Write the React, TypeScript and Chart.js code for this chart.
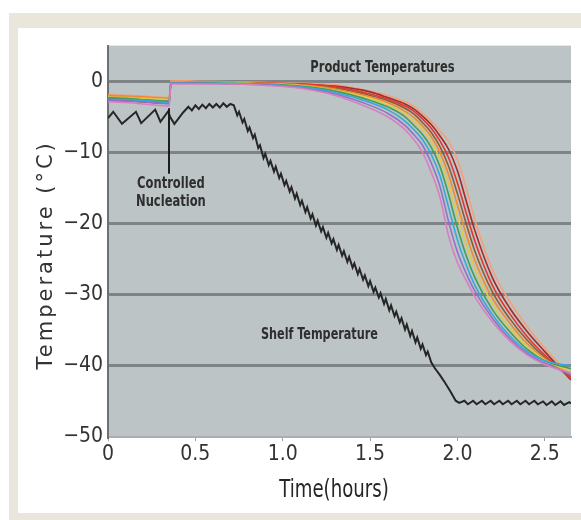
import React, { useEffect, useRef } from "react";
import { Chart, registerables } from "chart.js";

Chart.register(...registerables);

// ---------- Data ----------
const shelfTime = [
  0.0, 0.03, 0.08, 0.16, 0.19, 0.27, 0.3, 0.345, 0.355, 0.38, 0.43, 0.46, 0.48, 0.5, 0.52, 0.54, 0.56, 0.58, 0.6,
  0.62, 0.64, 0.66, 0.68, 0.7, 0.72, 0.74, 0.75, 0.77, 0.78, 0.8, 0.81, 0.83, 0.84, 0.86, 0.87, 0.89, 0.9, 0.92,
  0.93, 0.95, 0.96, 0.98, 0.99, 1.01, 1.02, 1.04, 1.05, 1.07, 1.08, 1.1, 1.11, 1.13, 1.14, 1.16, 1.17, 1.19, 1.2,
  1.22, 1.23, 1.25, 1.26, 1.28, 1.29, 1.31, 1.32, 1.34, 1.35, 1.37, 1.38, 1.4, 1.41, 1.43, 1.44, 1.46, 1.47, 1.49,
  1.5, 1.52, 1.53, 1.55, 1.56, 1.58, 1.59, 1.61, 1.62, 1.64, 1.65, 1.67, 1.68, 1.7, 1.71, 1.73, 1.74, 1.76, 1.77,
  1.79, 1.8, 1.82, 1.83, 1.85, 1.87, 1.9, 1.93, 1.96, 1.99, 2.01, 2.04, 2.06, 2.09, 2.11, 2.14, 2.16, 2.19, 2.21,
  2.24, 2.26, 2.29, 2.31, 2.34, 2.36, 2.39, 2.41, 2.44, 2.46, 2.49, 2.51, 2.54, 2.56, 2.59, 2.61, 2.64, 2.65,
];
const shelfTemp = [
  -5.2, -4.3, -6.0, -4.3, -5.9, -4.0, -5.7, -4.2, -5.0, -6.0, -4.4, -3.6, -4.1, -3.4, -3.9, -3.3, -3.8, -3.2, -3.7,
  -3.2, -3.7, -3.1, -3.6, -3.2, -3.4, -4.8, -4.3, -5.8, -5.3, -7.0, -6.5, -8.0, -7.5, -9.4, -9.0, -10.8, -10.2, -11.8,
  -11.2, -12.7, -12.0, -13.6, -13.0, -14.6, -14.0, -15.5, -14.9, -16.5, -15.8, -17.4, -16.8, -18.4, -17.7, -19.3, -18.7, -20.3, -19.6,
  -21.1, -20.5, -22.0, -21.3, -22.8, -22.2, -23.7, -23.0, -24.5, -23.9, -25.4, -24.7, -26.2, -25.6, -27.1, -26.4, -27.9, -27.3, -28.8,
  -28.1, -29.6, -29.0, -30.4, -29.8, -31.3, -30.6, -32.2, -31.5, -33.0, -32.4, -33.9, -33.3, -34.9, -34.2, -35.8, -35.1, -36.7, -36.0,
  -37.6, -37.0, -38.5, -38.0, -39.5, -40.3, -41.3, -42.4, -43.6, -44.9, -45.2, -44.9, -45.4, -44.9, -45.4, -44.9, -45.4, -44.9, -45.4,
  -44.9, -45.4, -44.9, -45.4, -44.9, -45.4, -44.9, -45.4, -44.9, -45.4, -45.0, -45.5, -45.0, -45.5, -45.0, -45.5, -45.1, -45.3,
];

const productTime = [
  0, 0.1, 0.2, 0.35, 0.36, 0.5, 0.7, 0.9, 1.1, 1.3, 1.5, 1.6, 1.7, 1.75, 1.8, 1.85, 1.9, 1.95, 2.0, 2.05, 2.1, 2.2,
  2.3, 2.4, 2.5, 2.65,
];
const productPink = [-2.9, -3.0, -3.2, -3.5, -0.4, -0.4, -0.4, -0.6, -1.0, -2.0, -3.8, -5.0, -6.8, -8.2, -10.0, -12.8, -16.3, -21.8, -25.5, -28.0, -30.3, -33.8, -36.5, -38.5, -39.8, -41.0];
const productPurple = [-2.7, -2.8, -2.9, -3.2, -0.3, -0.3, -0.4, -0.5, -0.9, -1.8, -3.4, -4.5, -6.2, -7.5, -9.0, -11.5, -14.8, -19.8, -24.0, -27.0, -29.5, -33.3, -36.2, -38.3, -39.6, -41.3];
const productBlue = [-2.5, -2.6, -2.7, -3.0, -0.2, -0.3, -0.3, -0.5, -0.8, -1.6, -3.0, -4.0, -5.6, -6.8, -8.2, -10.3, -13.3, -17.8, -22.3, -25.8, -28.7, -32.8, -35.8, -38.0, -39.3, -40.0];
const productGreen = [-2.3, -2.4, -2.6, -2.8, -0.2, -0.2, -0.3, -0.4, -0.7, -1.4, -2.7, -3.6, -5.0, -6.2, -7.5, -9.3, -12.0, -16.0, -20.6, -24.5, -27.6, -32.1, -35.2, -37.7, -39.3, -40.4];
const productYellow = [-2.2, -2.3, -2.4, -2.6, -0.1, -0.2, -0.2, -0.4, -0.6, -1.3, -2.4, -3.3, -4.6, -5.6, -6.8, -8.5, -11.0, -14.5, -19.0, -23.0, -26.4, -31.3, -34.7, -37.3, -39.2, -40.8];
const productOrange = [-2.0, -2.1, -2.2, -2.4, 0.0, -0.1, -0.2, -0.3, -0.5, -1.1, -2.2, -3.0, -4.2, -5.1, -6.3, -7.8, -10.0, -13.2, -17.4, -21.5, -25.2, -30.5, -34.0, -36.9, -39.0, -41.2];
const productBrown = [-2.1, -2.2, -2.4, -2.6, -0.1, -0.1, -0.2, -0.3, -0.5, -1.0, -2.0, -2.7, -3.8, -4.6, -5.8, -7.2, -9.2, -12.0, -15.8, -20.0, -23.9, -29.6, -33.4, -36.4, -38.8, -41.5];
const productRed = [-2.4, -2.5, -2.6, -2.9, -0.2, -0.2, -0.2, -0.3, -0.4, -0.8, -1.8, -2.5, -3.5, -4.2, -5.3, -6.6, -8.4, -10.8, -14.3, -18.5, -22.5, -28.7, -32.7, -35.9, -38.5, -41.8];
const productDarkRed = [-2.6, -2.7, -2.9, -3.1, -0.3, -0.3, -0.3, -0.3, -0.4, -0.7, -1.5, -2.3, -3.2, -3.9, -4.9, -6.1, -7.7, -9.6, -12.6, -16.8, -21.0, -27.6, -31.9, -35.2, -38.0, -42.0];
const productSalmon = [-1.9, -2.0, -2.1, -2.3, 0.1, 0.0, -0.1, -0.2, -0.3, -0.5, -1.4, -2.0, -2.9, -3.5, -4.5, -5.6, -7.0, -8.5, -11.0, -15.0, -19.5, -26.5, -31.0, -34.5, -37.5, -41.5];

const productSeries = [productPink, productPurple, productBlue, productGreen, productYellow, productOrange, productBrown, productRed, productDarkRed, productSalmon];
const productColors = ["#d77fc0", "#9470c8", "#35a9dc", "#3fa05a", "#e0c84a", "#ee8a33", "#8e5a35", "#e0382f", "#a32a2a", "#f2a07a"];

const yTicks = [-50, -40, -30, -20, -10, 0];
const xTicks = [0, 0.5, 1.0, 1.5, 2.0, 2.5];

const xTitle = "Time(hours)";
const yTitle = "Temperature (°C)";
const labelProduct = "Product Temperatures";
const labelShelf = "Shelf Temperature";
const labelNucleation = ["Controlled", "Nucleation"];

// ---------- Styles ----------
const CONDENSED = "'DejaVu Sans Condensed', 'Liberation Sans Narrow', sans-serif";
const PLOT_BG = "#bdc4c6";
const GRID = "#7d8386";
const TEXT = "#2e2e2e";

function narrowText(ctx: any, text: string, x: number, y: number, squeeze: number) {
  ctx.save();
  ctx.translate(x, y);
  ctx.scale(squeeze, 1);
  ctx.fillText(text, 0, 0);
  ctx.restore();
}

const decorPlugin = {
  id: "decor",
  beforeDraw(chart: any) {
    const { ctx, chartArea } = chart;
    ctx.save();
    ctx.fillStyle = PLOT_BG;
    ctx.fillRect(chartArea.left, chartArea.top, chartArea.right - chartArea.left, chartArea.bottom - chartArea.top);
    ctx.restore();
  },
  afterDatasetsDraw(chart: any) {
    const { ctx, scales, chartArea } = chart;
    const xs = scales.x;
    const ys = scales.y;
    ctx.save();
    ctx.fillStyle = TEXT;
    ctx.textAlign = "center";
    ctx.textBaseline = "middle";
    ctx.font = `bold 16px ${CONDENSED}`;
    narrowText(ctx, labelProduct, xs.getPixelForValue(1.571), ys.getPixelForValue(1.94), 0.8);
    narrowText(ctx, labelShelf, xs.getPixelForValue(1.21), ys.getPixelForValue(-35.6), 0.78);
    narrowText(ctx, labelNucleation[0], xs.getPixelForValue(0.36), ys.getPixelForValue(-14.4), 0.8);
    narrowText(ctx, labelNucleation[1], xs.getPixelForValue(0.36), ys.getPixelForValue(-16.9), 0.8);
    // pointer line
    ctx.strokeStyle = "#1e1e1e";
    ctx.lineWidth = 2;
    ctx.beginPath();
    ctx.moveTo(xs.getPixelForValue(0.349), ys.getPixelForValue(-3.8));
    ctx.lineTo(xs.getPixelForValue(0.349), ys.getPixelForValue(-13.0));
    ctx.stroke();

    // axis titles
    ctx.font = `24px ${CONDENSED}`;
    ctx.textBaseline = "alphabetic";
    ctx.fillStyle = "#262626";
    narrowText(ctx, xTitle, chartArea.left + 226, chartArea.bottom + 60, 0.84);

    ctx.translate(chartArea.left - 61, ys.getPixelForValue(-24.4));
    ctx.rotate(-Math.PI / 2);
    ctx.font = `21px 'DejaVu Sans', sans-serif`;
    (ctx as any).letterSpacing = "3px";
    ctx.textBaseline = "middle";
    ctx.fillStyle = "#333333";
    ctx.fillText(yTitle, 0, 0);
    ctx.restore();
  },
};

export default function App() {
  const canvasRef = useRef<HTMLCanvasElement | null>(null);

  useEffect(() => {
    const canvas = canvasRef.current;
    if (!canvas) return;
    const datasets: any[] = [
      {
        label: "Shelf Temperature",
        data: shelfTime.map((t, i) => ({ x: t, y: shelfTemp[i] })),
        borderColor: "#262626",
        borderWidth: 2,
        pointRadius: 0,
        tension: 0,
        order: 2,
      },
      ...productSeries.map((series, k) => ({
        label: `Product ${k + 1}`,
        data: productTime.map((t, i) => ({ x: t, y: series[i] })),
        borderColor: productColors[k],
        borderWidth: 1.6,
        pointRadius: 0,
        cubicInterpolationMode: "monotone",
        order: 1,
      })),
    ];

    const chart = new Chart(canvas, {
      type: "line",
      data: { datasets },
      options: {
        animation: false,
        responsive: false,
        maintainAspectRatio: false,
        layout: { padding: { top: 11, right: 10, left: 0, bottom: 0 } },
        plugins: { legend: { display: false }, tooltip: { enabled: false }, title: { display: false } },
        scales: {
          x: {
            type: "linear",
            min: 0,
            max: 2.65,
            afterFit: (s: any) => {
              s.height = 76;
            },
            afterBuildTicks: (s: any) => {
              s.ticks = xTicks.map((v) => ({ value: v }));
            },
            ticks: {
              autoSkip: false,
              maxRotation: 0,
              padding: 1,
              color: "#333",
              font: { family: CONDENSED, size: 21 },
              callback: (v: any) => (Number(v) === 0 ? "0" : Number(v).toFixed(1)),
            },
            grid: { drawOnChartArea: false, drawTicks: true, tickLength: 4, color: "#9aa0a3" },
            border: { display: true, color: "#a9afb1", width: 2 },
          },
          y: {
            type: "linear",
            min: -50,
            max: 5,
            afterFit: (s: any) => {
              s.width = 90;
            },
            afterBuildTicks: (s: any) => {
              s.ticks = yTicks.map((v) => ({ value: v }));
            },
            ticks: {
              padding: 5,
              color: "#333",
              font: { family: CONDENSED, size: 21 },
              callback: (v: any) => (Number(v) < 0 ? "\u2212" + Math.abs(Number(v)) : String(v)),
            },
            grid: {
              drawTicks: false,
              lineWidth: 3,
              color: (c: any) => (c.tick && c.tick.value === -50 ? "rgba(0,0,0,0)" : GRID),
            },
            border: { display: true, color: "#6c7174", width: 2 },
          },
        },
      },
      plugins: [decorPlugin],
    } as any);
    return () => chart.destroy();
  }, []);

  return (
    <div style={{ position: "fixed", left: 0, top: 0, width: 581, height: 520, background: "#fff", overflow: "hidden" }}>
      <div style={{ position: "absolute", left: 9, top: 13, width: 572, height: 507, background: "#ebe6dc" }} />
      <div style={{ position: "absolute", left: 18, top: 28, width: 563, height: 485, background: "#fff" }}>
        <canvas ref={canvasRef} width={563} height={485} style={{ display: "block", width: 563, height: 485 }} />
      </div>
    </div>
  );
}
